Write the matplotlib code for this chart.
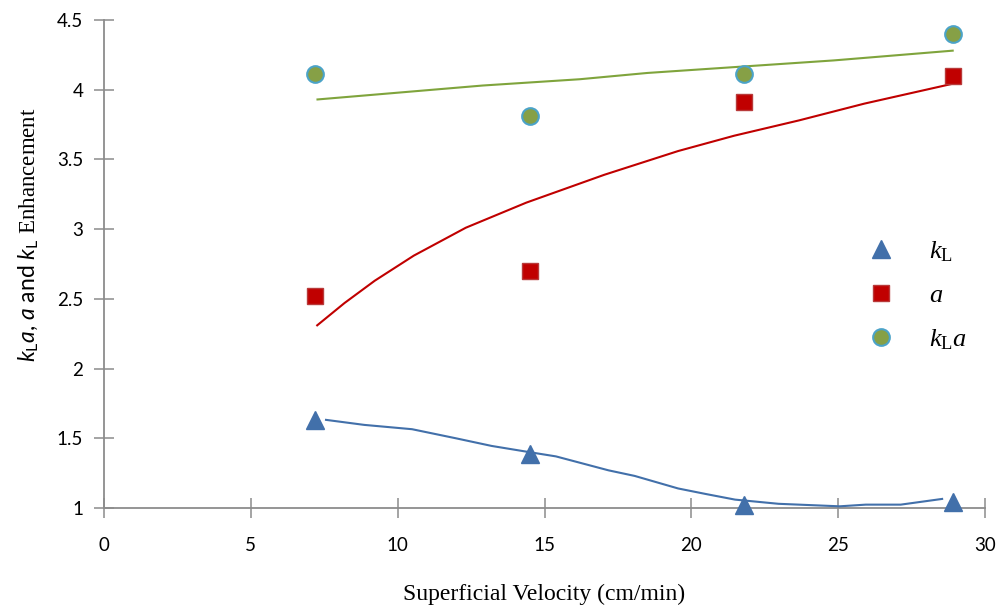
import matplotlib
matplotlib.use("Agg")
import matplotlib.pyplot as plt

# Measured enhancement factors at each superficial velocity
velocity = [7.2, 14.5, 21.8, 28.9]
kL = [1.63, 1.39, 1.02, 1.04]
a = [2.52, 2.70, 3.91, 4.10]
kLa = [4.11, 3.81, 4.11, 4.40]

# Fitted curves drawn through the data
kL_fit_x = [7.56, 8.86, 10.49, 11.98, 13.2, 14.50, 15.39, 17.18, 18.07, 19.55,
            20.5, 21.49, 22.97, 25.05, 25.94, 27.13, 28.54]
kL_fit_y = [1.632, 1.596, 1.565, 1.50, 1.445, 1.40, 1.37, 1.27, 1.23, 1.14,
            1.10, 1.06, 1.03, 1.012, 1.024, 1.024, 1.065]
a_fit_x = [7.26, 8.19, 9.22, 10.55, 12.32, 14.38, 17.04, 19.55, 21.46, 23.67, 25.89, 28.84]
a_fit_y = [2.31, 2.47, 2.63, 2.81, 3.01, 3.19, 3.39, 3.56, 3.67, 3.78, 3.90, 4.04]
kLa_fit_x = [7.27, 12.9, 16.2, 18.5, 24.85, 28.9]
kLa_fit_y = [3.93, 4.03, 4.075, 4.12, 4.21, 4.28]

x_ticks = [0, 5, 10, 15, 20, 25, 30]
y_ticks = [1, 1.5, 2, 2.5, 3, 3.5, 4, 4.5]
y_tick_labels = ["1", "1.5", "2", "2.5", "3", "3.5", "4", "4.5"]

plt.rcParams["mathtext.fontset"] = "custom"
plt.rcParams["mathtext.rm"] = "Liberation Serif"
plt.rcParams["mathtext.it"] = "Lato:italic"
plt.rcParams["mathtext.sf"] = "Lato"
plt.rcParams["mathtext.cal"] = "Liberation Serif:italic"

blue = "#4270AA"
red = "#C00000"
green_face = "#86A046"
green_line = "#7FA43C"
cyan_edge = "#4BA3C8"
axis_grey = "#8C8C8C"

fig = plt.figure(figsize=(10, 6.11), dpi=100)
ax = fig.add_axes([0.104, 0.1686, 0.881, 0.7987])

ax.plot(kL_fit_x, kL_fit_y, color=blue, lw=1.5, zorder=2)
ax.plot(a_fit_x, a_fit_y, color=red, lw=1.5, zorder=2)
ax.plot(kLa_fit_x, kLa_fit_y, color=green_line, lw=1.5, zorder=2)

ax.plot(velocity, kL, ls="none", marker="^", ms=13, mfc=blue, mec=blue,
        label=r"$\mathcal{k}_{\mathrm{L}}$", zorder=4, clip_on=False)
ax.plot(velocity, a, ls="none", marker="s", ms=11, mfc=red, mec="#B83A3A", mew=1,
        label=r"$\mathcal{a}$", zorder=4, clip_on=False)
ax.plot(velocity, kLa, ls="none", marker="o", ms=12, mfc=green_face, mec=cyan_edge, mew=1.5,
        label=r"$\mathcal{k}_{\mathrm{L}}\mathcal{a}$", zorder=4, clip_on=False)

ax.set_xlim(0, 30)
ax.set_ylim(1, 4.5)
ax.set_xticks(x_ticks)
ax.set_yticks(y_ticks)
ax.set_yticklabels(y_tick_labels)

for side in ("top", "right"):
    ax.spines[side].set_visible(False)
for side in ("left", "bottom"):
    ax.spines[side].set_color(axis_grey)
    ax.spines[side].set_linewidth(1.3)
    ax.spines[side].set_zorder(1)

ax.tick_params(axis="both", direction="inout", length=14, width=1.1, color=axis_grey,
               labelsize=13.5, labelcolor="black")
ax.tick_params(axis="x", pad=14)
ax.tick_params(axis="y", pad=8)
for lbl in ax.get_xticklabels() + ax.get_yticklabels():
    lbl.set_fontfamily("Lato")

ax.set_xlabel("Superficial Velocity (cm/min)", fontfamily="Liberation Serif",
              fontsize=17, labelpad=21)
ax.set_ylabel(r"$k_{\mathsf{L}}a$, $a$ and $k_{\mathsf{L}}$ $\mathrm{Enhancement}$",
              fontfamily="Lato", fontsize=16.5, labelpad=12)
ax.yaxis.set_label_coords(-0.071, 0.56)

leg = ax.legend(loc="upper left", bbox_to_anchor=(0.832, 0.60), frameon=False,
                prop={"family": "Liberation Serif", "size": 19},
                handletextpad=1.1, labelspacing=0.75, handlelength=1.5)

fig.savefig("out.png", dpi=100)
